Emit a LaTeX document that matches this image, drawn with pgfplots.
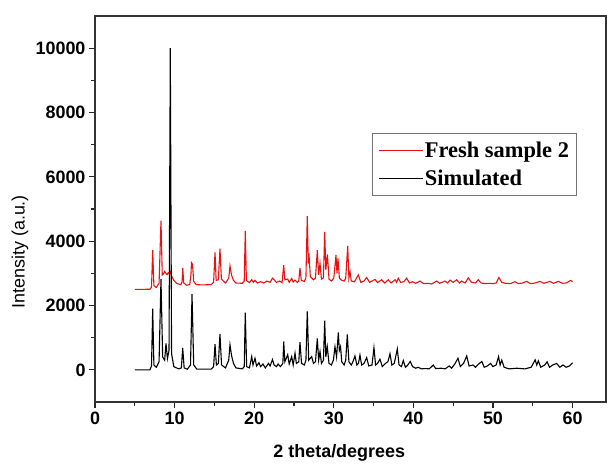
\documentclass[border=0pt]{standalone}
\usepackage{fontspec}
\setmainfont{Liberation Sans}
\newfontfamily\legendfont{Liberation Serif}
\usepackage{pgfplots}
\pgfplotsset{compat=1.18}
\definecolor{xrdred}{RGB}{232,18,18}

\begin{document}
\begin{tikzpicture}
\begin{axis}[
    at={(0,0)}, anchor=south west,
    scale only axis, width=511bp, height=386bp,
    xmin=0, xmax=64.2, ymin=-1000, ymax=11000,
    xtick={0,10,...,60}, ytick={0,2000,...,10000},
    minor x tick num=1, minor y tick num=1,
    tick align=outside, tick pos=left,
    major tick length=6bp, minor tick length=4bp,
    every tick/.style={line width=1.1bp, black!85},
    axis line style={line width=1.3bp, black!80},
    ticklabel style={font=\fontsize{18}{18}\selectfont\bfseries},
    /pgf/number format/assume math mode=true,
    /pgf/number format/1000 sep={},
    scaled y ticks=false,
    xlabel={2 theta/degrees},
    ylabel={Intensity (a.u.)},
    xlabel style={font=\fontsize{18}{18}\selectfont\bfseries,
        at={(axis description cs:0.478,-0.132)}, anchor=center},
    ylabel style={font=\fontsize{18}{18}\selectfont,
        at={(axis description cs:-0.147,0.389)}, anchor=center},
    legend style={at={(axis description cs:0.542,0.697)}, anchor=north west,
        draw=black!55, line width=1bp,
        font=\legendfont\bfseries\fontsize{22.5}{24}\selectfont,
        inner xsep=6bp, inner ysep=7bp, row sep=9bp,
        nodes={inner sep=1.2bp}},
    legend cell align=left,
    legend image code/.code={\draw[#1, line width=1.3bp] (0bp,0bp) -- (44bp,0bp);},
]
% fresh sample 2
\addplot[xrdred, line width=1.1bp] coordinates {
(5,2500) (6.9,2505) (7.1,2570) (7.25,3720) (7.4,2620) (7.7,2560) (8.05,2700) (8.29,4630)
(8.45,2950) (8.62,2980) (8.75,3060) (8.92,3000) (9.05,2960) (9.2,3020) (9.35,2980) (9.5,3050)
(9.65,2900) (9.9,2780) (10.3,2680) (10.8,2650) (10.95,2750) (11.02,3170) (11.15,2700)
(11.5,2630) (11.9,2650) (12.05,2950) (12.12,3330) (12.25,3280) (12.4,2750) (12.7,2650)
(13.5,2640) (14.6,2650) (14.9,2720) (15.08,3650) (15.22,2780) (15.5,2800) (15.70,3770)
(15.88,2820) (16.4,2700) (16.8,2850) (16.96,3230) (17.15,2950) (17.4,2780) (17.7,2700)
(18.5,2690) (18.75,2760) (18.88,4320) (19.02,2780) (19.4,2710) (19.69,2800) (19.9,2720)
(20.1,2780) (20.4,2700) (20.8,2740) (21.2,2700) (21.6,2760) (22.0,2720) (22.3,2850)
(22.5,2800) (22.8,2720) (23.2,2760) (23.5,2710) (23.71,3250) (23.85,2800) (24.21,2820)
(24.4,2720) (24.71,2840) (24.9,2730) (25.13,2790) (25.4,2720) (25.6,2760) (25.75,3170)
(25.92,2780) (26.3,2750) (26.5,2860) (26.67,4780) (26.8,3300) (26.88,3620) (27.05,2900)
(27.45,2800) (27.7,2850) (27.93,3720) (28.1,2950) (28.27,3310) (28.45,2820) (28.7,2860)
(28.86,4290) (29.0,3100) (29.2,3590) (29.4,2820) (29.7,2760) (30.0,2850) (30.28,3570)
(30.4,3000) (30.53,3460) (30.7,2850) (31.0,2780) (31.3,2760) (31.5,2850) (31.75,3850)
(31.9,2850) (32.04,3050) (32.2,2760) (32.6,2740) (33.08,2950) (33.4,2720) (33.8,2760)
(34.13,2870) (34.5,2720) (34.8,2760) (35.18,2810) (35.5,2710) (36.0,2800) (36.4,2700)
(36.85,2800) (37.2,2700) (37.7,2800) (37.9,2720) (38.1,2850) (38.4,2720) (38.8,2740)
(39.16,2850) (39.5,2700) (39.9,2740) (40.3,2690) (40.83,2760) (41.3,2680) (41.8,2690)
(42.3,2670) (42.93,2760) (43.3,2690) (43.97,2760) (44.3,2700) (44.6,2790) (45.0,2720)
(45.44,2800) (45.8,2700) (46.07,2760) (46.5,2700) (46.9,2860) (47.3,2720) (47.8,2700)
(48.15,2800) (48.5,2700) (49.0,2680) (49.5,2690) (50.0,2680) (50.4,2700) (50.75,2870)
(51.1,2720) (51.6,2690) (52.2,2680) (52.76,2740) (53.2,2680) (53.7,2700) (54.23,2750)
(54.7,2680) (55.3,2700) (55.9,2750) (56.4,2690) (57.16,2750) (57.6,2690) (58.2,2750)
(58.7,2690) (59.2,2700) (59.76,2780) (60,2740)
};
\addlegendentry{Fresh sample 2}
% simulated
\addplot[black, line width=1.1bp] coordinates {
(5,0) (6.9,0) (7.1,120) (7.25,1900) (7.4,150) (7.7,80) (8.05,250) (8.29,2820) (8.5,400)
(8.75,300) (8.92,820) (9.1,350) (9.3,600) (9.46,10000) (9.62,500) (9.9,100) (10.5,30)
(10.85,60) (11.02,680) (11.2,60) (11.6,20) (12.0,150) (12.19,2350) (12.4,150) (12.8,20)
(14.6,20) (14.9,100) (15.08,800) (15.25,150) (15.5,200) (15.70,1120) (15.9,150) (16.4,60)
(16.8,300) (16.96,780) (17.15,450) (17.4,200) (17.7,60) (18.5,30) (18.75,100) (18.88,1780)
(19.05,100) (19.4,60) (19.69,410) (19.85,150) (20.1,360) (20.3,120) (20.6,220) (20.8,100)
(21.1,180) (21.4,60) (21.8,200) (22.0,120) (22.3,320) (22.5,150) (22.8,100) (23.0,180)
(23.3,100) (23.6,200) (23.71,880) (23.85,250) (24.21,470) (24.4,180) (24.71,410) (24.9,150)
(25.13,520) (25.3,200) (25.6,250) (25.75,860) (25.95,200) (26.3,150) (26.5,300) (26.67,1820)
(26.85,300) (27.22,410) (27.45,200) (27.7,250) (27.93,980) (28.1,300) (28.27,570) (28.45,200)
(28.7,300) (28.86,1530) (29.0,400) (29.18,720) (29.4,200) (29.7,150) (29.95,300) (30.15,720)
(30.35,400) (30.57,1160) (30.7,600) (30.85,720) (31.0,250) (31.3,150) (31.5,300) (31.70,1100)
(31.9,250) (32.2,150) (32.4,250) (32.66,430) (32.9,150) (33.1,200) (33.29,460) (33.5,150)
(33.8,200) (34.13,380) (34.4,120) (34.8,150) (35.05,690) (35.25,150) (35.5,200) (35.8,330)
(36.1,100) (36.5,200) (36.8,250) (37.06,500) (37.3,150) (37.6,200) (37.98,650) (38.2,150)
(38.5,100) (38.73,290) (39.0,80) (39.3,150) (39.6,260) (39.9,100) (40.3,50) (40.6,80)
(41.0,30) (41.5,40) (42.0,30) (42.5,150) (42.8,40) (43.5,50) (44.0,30) (44.5,120) (44.8,50)
(45.2,180) (45.6,360) (45.9,100) (46.3,200) (46.7,430) (47.0,120) (47.5,150) (47.8,80)
(48.2,180) (48.6,260) (48.9,80) (49.3,120) (49.7,200) (50.0,100) (50.4,150) (50.7,410)
(50.9,150) (51.1,300) (51.4,80) (52.0,30) (53.0,50) (54.0,30) (54.8,80) (55.3,310) (55.5,150)
(55.7,280) (56.0,80) (56.5,150) (56.8,250) (57.1,80) (57.5,150) (58.0,200) (58.4,80)
(58.8,150) (59.2,80) (59.6,120) (60.0,220)
};
\addlegendentry{Simulated}
\end{axis}
\pgfresetboundingbox
\path (-95bp,-64bp) rectangle (512bp,402bp);
\end{tikzpicture}
\end{document}
